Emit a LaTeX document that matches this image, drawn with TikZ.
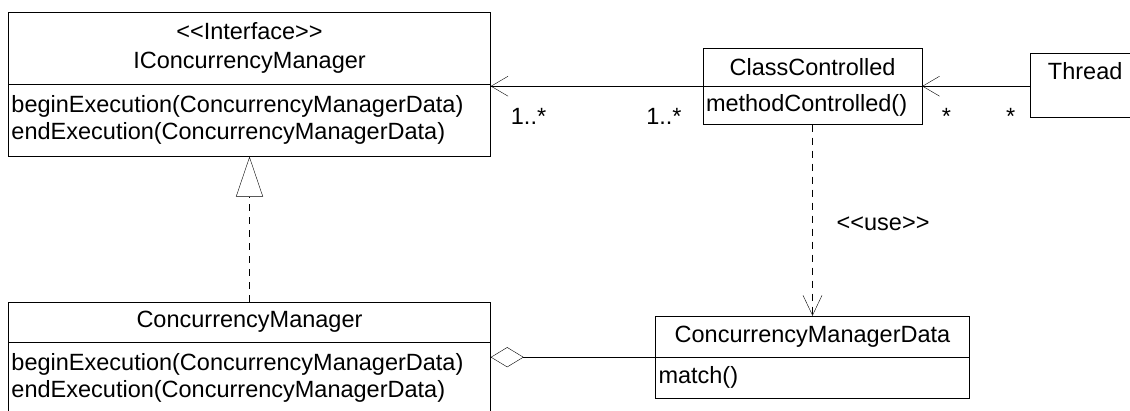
\documentclass[tikz,border=0pt]{standalone}
\usepackage{fontspec}
\setmainfont{Liberation Sans}
\usetikzlibrary{shapes,arrows.meta,positioning}
\newcommand{\umlst}[1]{\mbox{<}\mbox{<}#1\mbox{>}\mbox{>}}
\tikzset{
	line width=1pt,
	head/.style ={rectangle, draw, inner sep=3pt, align=center, font=\fontsize{23.5}{29}\selectfont},
	body/.style ={rectangle, draw, inner sep=3pt, align=left, font=\fontsize{23.5}{27}\selectfont},
	assoc/.style={-{Straight Barb[length=17pt,width=20pt]}},
	real/.style ={dash pattern=on 7pt off 6pt, -{Triangle[open,length=40pt,width=27pt]}},
	dep/.style  ={dash pattern=on 7pt off 6pt, -{Straight Barb[length=20pt,width=19pt]}},
	aggr/.style ={{Diamond[open,length=33pt,width=20pt]}-},
	el/.style = {inner sep=3pt, font=\fontsize{23.5}{27}\selectfont}
}

\begin{document}
\begin{tikzpicture}[x=1pt, y=-1pt]
    \useasboundingbox (0,0) rectangle (1130,410);
    \clip (0,0) rectangle (1130,410);

    \node[head, minimum width=482pt, minimum height=72pt] (ih) at (249.5,48) {\umlst{Interface}\\IConcurrencyManager};
    \node[body, text width=476pt, minimum height=72pt, anchor=north] (ib) at (ih.south) {beginExecution(ConcurrencyManagerData)\\endExecution(ConcurrencyManagerData)};

    \node[head, minimum width=219pt, minimum height=38pt] (ch) at (812.5,67) {ClassControlled};
    \node[body, text width=213pt, minimum height=38pt, anchor=north] (cb) at (ch.south) {methodControlled()};

    \node[head, minimum width=110pt, minimum height=64pt, anchor=north west] (thread) at (1030,53) {Thread\\\mbox{}};

    \node[head, minimum width=482pt, minimum height=40pt] (mh) at (249.5,322) {ConcurrencyManager};
    \node[body, text width=476pt, minimum height=72pt, anchor=north] (mb) at (mh.south) {beginExecution(ConcurrencyManagerData)\\endExecution(ConcurrencyManagerData)};

    \node[head, minimum width=314pt, minimum height=41pt] (dh) at (812.5,336.5) {ConcurrencyManagerData};
    \node[body, text width=308pt, minimum height=41pt, anchor=north] (db) at (dh.south) {match()};

    \draw[assoc] (ch.south west) -- (ch.south west -| ih.east)
        node[el, at start, anchor=north east, xshift=-18pt, yshift=-19pt] {1..*}
        node[el, at end, anchor=north west, xshift=17pt, yshift=-19pt] {1..*};
    \draw[assoc] (ch.south east -| thread.west) -- (ch.south east)
        node[el, at start, anchor=north east, xshift=-11.5pt, yshift=-19pt] {*}
        node[el, at end, anchor=north west, xshift=16.5pt, yshift=-19pt] {*};
    \draw[real] (mh.north) -- (ib.south);
    \draw[dep] (cb.south) -- (dh.north) node[el, pos=.52, anchor=west, xshift=21pt] {\umlst{use}};
    \draw[aggr] (dh.south west -| mb.east) -- (dh.south west);

\end{tikzpicture}
\end{document}
